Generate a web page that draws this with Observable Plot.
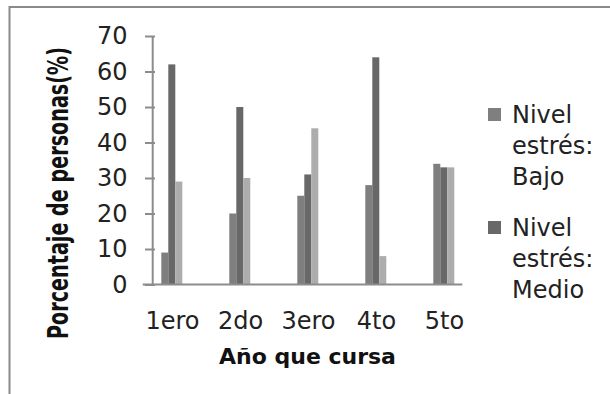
<!DOCTYPE html>
<html>
<head>
<meta charset="utf-8">
<script src="https://cdn.jsdelivr.net/npm/d3@7"></script>
<script src="https://cdn.jsdelivr.net/npm/@observablehq/plot@0.6"></script>
<style>
  html, body { margin: 0; padding: 0; background: #fff; }
  #chart { width: 610px; height: 394px; overflow: hidden; }
</style>
</head>
<body>
<div id="chart"></div>
<script>
// ---- data ----
const years = ["1ero", "2do", "3ero", "4to", "5to"];
const series = ["Nivel estrés: Bajo", "Nivel estrés: Medio", "Nivel estrés: Alto"];
const bajo = [9, 20, 25, 28, 34];
const medio = [62, 50, 31, 64, 33];
const alto = [29, 30, 44, 8, 33];
const yTicks = [0, 10, 20, 30, 40, 50, 60, 70];
const legendShown = ["Nivel estrés: Bajo", "Nivel estrés: Medio"];
const yTitle = "Porcentaje de personas(%)";
const xTitle = "Año que cursa";

const colors = ["#7f7f7f", "#686868", "#adadad"];

const values = [bajo, medio, alto];
const rows = [];
years.forEach((yr, i) => series.forEach((s, k) => rows.push({year: yr, serie: s, value: values[k][i]})));

const W = 610, H = 394;
const mL = 152.7, mR = 147.7, mT = 36, mB = 109.5;
const axisColor = "#8c8c8c";

const plot = Plot.plot({
  width: W,
  height: H,
  marginLeft: mL,
  marginRight: mR,
  marginTop: mT,
  marginBottom: mB,
  style: {fontFamily: "DejaVu Sans", fontSize: "24px", color: "#222", background: "transparent", overflow: "visible"},
  fx: {domain: years, paddingInner: 0.5, paddingOuter: 0, label: null, axis: null},
  x: {domain: series, paddingInner: 0, paddingOuter: 0.705, axis: null},
  y: {domain: [0, 70], axis: null},
  color: {domain: series, range: colors},
  marks: [
    Plot.barY(rows, {fx: "year", x: "serie", y: "value", fill: "serie", inset: 0}),
    Plot.axisY({ticks: yTicks, tickSize: 10, tickPadding: 18, stroke: axisColor, strokeWidth: 2, fill: "#222", label: null}),
    Plot.axisFx({anchor: "bottom", tickSize: 0, tickPadding: 27, fill: "#222", label: null})
  ]
});

document.getElementById("chart").appendChild(plot);

const svg = d3.select(plot);
const y = plot.scale("y");
const y0 = y.apply(0), yTop = y.apply(70);

// axis lines
svg.append("line").attr("x1", mL).attr("x2", mL).attr("y1", yTop).attr("y2", y0)
  .attr("stroke", axisColor).attr("stroke-width", 2);
svg.append("line").attr("x1", mL - 10).attr("x2", W - mR).attr("y1", y0).attr("y2", y0)
  .attr("stroke", axisColor).attr("stroke-width", 2.2);

// outer frame (partially visible)
svg.append("line").attr("x1", 9).attr("x2", W).attr("y1", 7).attr("y2", 7)
  .attr("stroke", "#8a8a8a").attr("stroke-width", 2);
svg.append("line").attr("x1", 9.5).attr("x2", 9.5).attr("y1", 6).attr("y2", H)
  .attr("stroke", "#8a8a8a").attr("stroke-width", 2);

// axis titles
svg.append("text")
  .attr("transform", "translate(57.5,193) scale(1.3,1) rotate(-90)")
  .attr("text-anchor", "middle").attr("dominant-baseline", "central")
  .attr("font-family", "DejaVu Sans").attr("font-weight", "bold").attr("font-size", 22)
  .attr("textLength", 292).attr("lengthAdjust", "spacingAndGlyphs")
  .attr("fill", "#111")
  .text(yTitle);

svg.append("text")
  .attr("x", (mL + W - mR) / 2).attr("y", 364)
  .attr("text-anchor", "middle")
  .attr("font-family", "DejaVu Sans").attr("font-weight", "bold").attr("font-size", 22)
  .attr("fill", "#111")
  .text(xTitle);

// legend
const lg = svg.append("g").attr("font-family", "DejaVu Sans").attr("font-size", 24)
  .attr("fill", "#222").attr("text-anchor", "start");
legendShown.forEach((name, i) => {
  const base = 123 + i * 113;
  const parts = ["Nivel", "estrés:", name.split(": ")[1]];
  lg.append("rect").attr("x", 488).attr("y", base - 15).attr("width", 13).attr("height", 13)
    .attr("fill", colors[series.indexOf(name)]);
  const t = lg.append("text").attr("x", 512).attr("y", base).attr("text-anchor", "start");
  parts.forEach((p, j) => t.append("tspan").attr("x", 512).attr("dy", j === 0 ? 0 : 31).text(p));
});
</script>
</body>
</html>
